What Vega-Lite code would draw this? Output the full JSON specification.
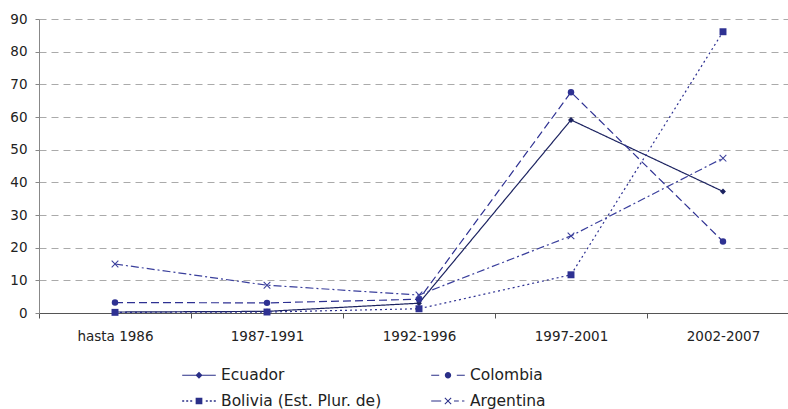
{
  "$schema": "https://vega.github.io/schema/vega-lite/v6.json",
  "width": 760,
  "height": 294,
  "autosize": {"type": "none"},
  "padding": {"left": 39, "top": 19, "right": 0, "bottom": 96},
  "background": "white",
  "config": {
    "font": "DejaVu Sans",
    "view": {"stroke": null},
    "legend": {"labelFont": "DejaVu Sans", "labelFontSize": 15.5, "labelColor": "#222", "labelLimit": 400}
  },
  "data": {
    "values": [
      {"pais": "Ecuador", "periodo": "hasta 1986", "valor": 0.3},
      {"pais": "Ecuador", "periodo": "1987-1991", "valor": 0.5},
      {"pais": "Ecuador", "periodo": "1992-1996", "valor": 3.0},
      {"pais": "Ecuador", "periodo": "1997-2001", "valor": 59.1},
      {"pais": "Ecuador", "periodo": "2002-2007", "valor": 37.2},
      {"pais": "Colombia", "periodo": "hasta 1986", "valor": 3.2},
      {"pais": "Colombia", "periodo": "1987-1991", "valor": 3.1},
      {"pais": "Colombia", "periodo": "1992-1996", "valor": 4.2},
      {"pais": "Colombia", "periodo": "1997-2001", "valor": 67.6},
      {"pais": "Colombia", "periodo": "2002-2007", "valor": 21.9},
      {"pais": "Bolivia (Est. Plur. de)", "periodo": "hasta 1986", "valor": 0.2},
      {"pais": "Bolivia (Est. Plur. de)", "periodo": "1987-1991", "valor": 0.3},
      {"pais": "Bolivia (Est. Plur. de)", "periodo": "1992-1996", "valor": 1.3},
      {"pais": "Bolivia (Est. Plur. de)", "periodo": "1997-2001", "valor": 11.7},
      {"pais": "Bolivia (Est. Plur. de)", "periodo": "2002-2007", "valor": 86.1},
      {"pais": "Argentina", "periodo": "hasta 1986", "valor": 15.0},
      {"pais": "Argentina", "periodo": "1987-1991", "valor": 8.5},
      {"pais": "Argentina", "periodo": "1992-1996", "valor": 5.5},
      {"pais": "Argentina", "periodo": "1997-2001", "valor": 23.6},
      {"pais": "Argentina", "periodo": "2002-2007", "valor": 47.4}
    ]
  },
  "encoding": {
    "x": {
      "field": "periodo", "type": "nominal",
      "sort": ["hasta 1986", "1987-1991", "1992-1996", "1997-2001", "2002-2007"],
      "scale": {"paddingInner": 0, "paddingOuter": 0},
      "axis": {"title": null, "labelAngle": 0, "tickBand": "extent", "domainColor": "#555", "tickColor": "#555", "tickSize": 5, "labelFontSize": 13.5, "labelColor": "#222", "labelPadding": 11, "grid": false}
    },
    "y": {
      "field": "valor", "type": "quantitative",
      "scale": {"domain": [0, 90]},
      "axis": {"title": null, "values": [0,10,20,30,40,50,60,70,80,90], "domainColor": "#888", "tickColor": "#888", "tickSize": 4, "labelFontSize": 13.5, "labelColor": "#222", "labelPadding": 8, "gridColor": "#aaa", "gridDash": [7, 5], "gridWidth": 1}
    },
    "color": {
      "field": "pais", "type": "nominal",
      "scale": {"domain": ["Ecuador", "Colombia", "Bolivia (Est. Plur. de)", "Argentina"], "range": ["#1c2360", "#2e3192", "#2e3192", "#3a3f9c"]},
      "legend": null
    }
  },
  "layer": [
    {
      "mark": {"type": "line", "strokeWidth": 1.2},
      "encoding": {
        "strokeDash": {
          "field": "pais", "type": "nominal",
          "scale": {"domain": ["Ecuador", "Colombia", "Bolivia (Est. Plur. de)", "Argentina"], "range": [[1, 0], [8, 4], [2, 3], [8, 3, 2, 3]]},
          "legend": null
        }
      }
    },
    {
      "mark": {"type": "point", "filled": true, "opacity": 1},
      "encoding": {
        "shape": {
          "field": "pais", "type": "nominal",
          "scale": {"domain": ["Ecuador", "Colombia", "Bolivia (Est. Plur. de)", "Argentina"], "range": ["diamond", "circle", "square", "M-1,-0.8L-0.8,-1L0,-0.2L0.8,-1L1,-0.8L0.2,0L1,0.8L0.8,1L0,0.2L-0.8,1L-1,0.8L-0.2,0Z"]},
          "legend": null
        },
        "size": {
          "field": "pais", "type": "nominal",
          "scale": {"domain": ["Ecuador", "Colombia", "Bolivia (Est. Plur. de)", "Argentina"], "range": [35, 55, 55, 50]},
          "legend": null
        }
      }
    },
    {
      "transform": [{"filter": "datum.valor < -1000"}],
      "mark": {"type": "point", "filled": true, "opacity": 1, "size": 256, "color": "#2a2f88"},
      "encoding": {
        "color": {"value": "#2a2f88"},
        "shape": {
          "field": "pais", "type": "nominal",
          "scale": {
            "domain": ["Ecuador", "Colombia", "Bolivia (Est. Plur. de)", "Argentina"],
            "range": [
              "M-2.1,-0.075H2.1V0.075H-2.1Z M0,-0.44L0.44,0L0,0.44L-0.44,0Z",
              "M-2.1,-0.075H-1.1V0.075H-2.1Z M1.1,-0.075H2.1V0.075H1.1Z M-0.4,0A0.4,0.4 0 1,0 0.4,0A0.4,0.4 0 1,0 -0.4,0Z",
              "M-2.1,-0.1H-1.85V0.1H-2.1Z M-1.6,-0.1H-1.35V0.1H-1.6Z M-1.1,-0.1H-0.85V0.1H-1.1Z M0.85,-0.1H1.1V0.1H0.85Z M1.35,-0.1H1.6V0.1H1.35Z M1.85,-0.1H2.1V0.1H1.85Z M-0.42,-0.42H0.42V0.42H-0.42Z",
              "M-2.1,-0.075H-0.85V0.075H-2.1Z M0.75,-0.075H1.35V0.075H0.75Z M1.75,-0.075H2.05V0.075H1.75Z M-0.44,-0.35L-0.35,-0.44L0,-0.09L0.35,-0.44L0.44,-0.35L0.09,0L0.44,0.35L0.35,0.44L0,0.09L-0.35,0.44L-0.44,0.35L-0.09,0Z"
            ]
          },
          "legend": {"title": null, "orient": "none", "legendX": 144, "legendY": 348, "columns": 2, "direction": "horizontal", "columnPadding": 49, "rowPadding": 9, "labelFontSize": 15.5, "labelColor": "#222", "labelFont": "DejaVu Sans", "labelLimit": 400, "symbolFillColor": "#2a2f88", "symbolStrokeColor": "transparent", "symbolStrokeWidth": 0, "symbolSize": 256, "symbolOffset": 8, "labelOffset": 14}
        }
      }
    }
  ],
  "resolve": {"scale": {"shape": "independent"}}
}
